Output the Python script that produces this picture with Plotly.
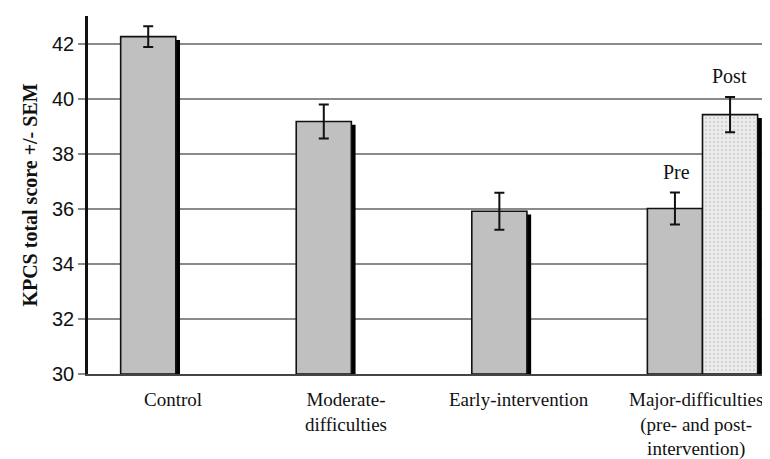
import plotly.graph_objects as go

categories = ["Control", "Moderate-difficulties", "Early-intervention", "Major-difficulties"]
category_labels = ["Control", "Moderate-<br>difficulties", "Early-intervention",
                   "Major-difficulties<br>(pre- and post-<br>intervention)"]
pre_values = [42.25, 39.17, 35.91, 36.01]
pre_sem = [0.38, 0.62, 0.67, 0.58]
post_categories = [categories[3]]
post_values = [39.42]
post_sem = [0.64]
y_ticks = [30, 32, 34, 36, 38, 40, 42]

BW = 0.314      # bar width in category units
SH = 0.024      # shadow shift (units)
SD = 0.12       # shadow top drop (data units)
label_shift = [-3, -5, -8, -7]

fig = go.Figure()

# shadows
fig.add_trace(go.Bar(x=categories, y=[v - 30 - SD for v in pre_values], base=30,
                     width=BW, offset=-BW + SH, marker=dict(color="black", line=dict(width=0)),
                     hoverinfo="skip", showlegend=False))
fig.add_trace(go.Bar(x=post_categories, y=[v - 30 - SD for v in post_values], base=30,
                     width=BW, offset=SH, marker=dict(color="black", line=dict(width=0)),
                     hoverinfo="skip", showlegend=False))
# main bars
fig.add_trace(go.Bar(x=categories, y=[v - 30 for v in pre_values], base=30,
                     width=BW, offset=-BW,
                     marker=dict(color="#c0c0c0", line=dict(color="#111", width=1.6)),
                     error_y=dict(type="data", array=pre_sem, color="#111", thickness=2, width=5),
                     showlegend=False, name="Pre"))
fig.add_trace(go.Bar(x=post_categories, y=[v - 30 for v in post_values], base=30,
                     width=BW, offset=0,
                     marker=dict(color="#e4e4e4", line=dict(color="#111", width=1.6),
                                 pattern=dict(shape=".", fgcolor="#b8b8b8", bgcolor="#ececec",
                                              size=4, solidity=0.25)),
                     error_y=dict(type="data", array=post_sem, color="#111", thickness=2, width=5),
                     showlegend=False, name="Post"))

fig.add_annotation(x=categories[3], y=pre_values[3] + pre_sem[3], text="Pre",
                   xshift=-26, yshift=8, yanchor="bottom", showarrow=False,
                   font=dict(family="Liberation Serif", size=20, color="#111"))
fig.add_annotation(x=categories[3], y=post_values[0] + post_sem[0], text="Post",
                   xshift=27, yshift=8, yanchor="bottom", showarrow=False,
                   font=dict(family="Liberation Serif", size=20, color="#111"))

for cat, lab, sh in zip(categories, category_labels, label_shift):
    fig.add_annotation(x=cat, y=0, yref="paper", text=lab, xshift=sh, yshift=-13,
                       yanchor="top", xanchor="center", showarrow=False, align="center",
                       font=dict(family="Liberation Serif", size=19, color="#111"))

fig.update_layout(
    width=770, height=459,
    margin=dict(l=80, r=0, t=8, b=93),
    paper_bgcolor="white", plot_bgcolor="white",
    barmode="overlay",
    xaxis=dict(type="category", range=[-0.5, 3.43], showgrid=False,
               showline=True, linecolor="#444", linewidth=2,
               ticks="", showticklabels=False, automargin=False),
    yaxis=dict(range=[30, 43], tickvals=y_ticks, showgrid=True, gridcolor="#8a8a8a",
               gridwidth=1.5, showline=True, linecolor="#111", linewidth=2.5,
               ticks="outside", ticklen=7, tickcolor="#8a8a8a", tickwidth=1.5,
               tickfont=dict(family="Liberation Sans", size=20, color="#111"),
               zeroline=False, automargin=False,
               title=dict(text="<b>KPCS total score +/- SEM</b>", standoff=10,
                          font=dict(family="Liberation Serif", size=20, color="#111"))),
)

fig.write_html("out.html")
